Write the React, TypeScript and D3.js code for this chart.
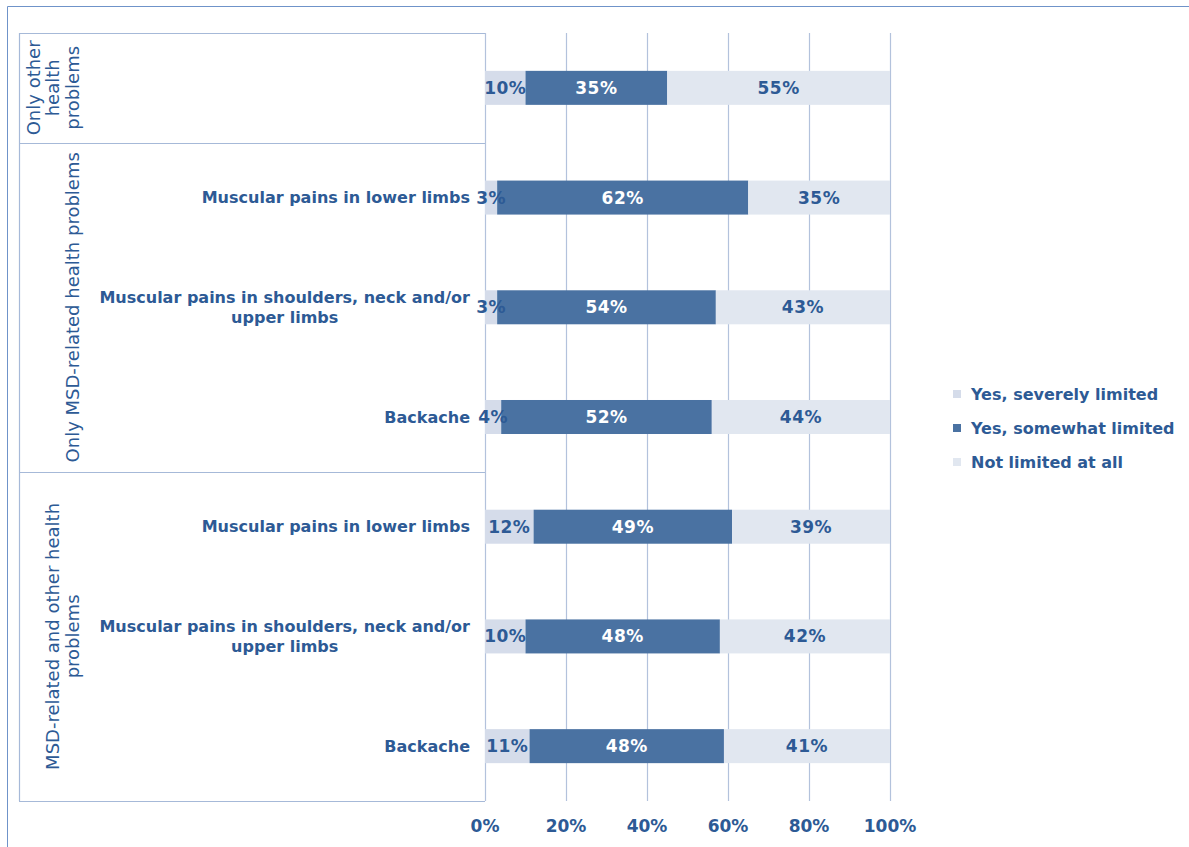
import React, { useEffect, useRef } from "react";
import * as d3 from "d3";

const groups = [
  { name: ["Only other", "health", "problems"], size: 1 },
  { name: ["Only MSD-related health problems"], size: 3 },
  { name: ["MSD-related and other health", "problems"], size: 3 },
];
const categories = [
  [""],
  ["Muscular pains in lower limbs"],
  ["Muscular pains in shoulders, neck and/or", "upper limbs"],
  ["Backache"],
  ["Muscular pains in lower limbs"],
  ["Muscular pains in shoulders, neck and/or", "upper limbs"],
  ["Backache"],
];
const severely = [10, 3, 3, 4, 12, 10, 11];
const somewhat = [35, 62, 54, 52, 49, 48, 48];
const notLimited = [55, 35, 43, 44, 39, 42, 41];
const seriesNames = ["Yes, severely limited", "Yes, somewhat limited", "Not limited at all"];
const ticks = [0, 20, 40, 60, 80, 100];

const colors = ["#d5dcea", "#4a72a2", "#e1e7f0"];
const textColor = "#2d5a95";
const FONT = "'DejaVu Sans', Verdana, sans-serif";

export default function App() {
  const ref = useRef<SVGSVGElement>(null);
  useEffect(() => {
    const svg = d3.select(ref.current);
    svg.selectAll("*").remove();
    const x0 = 485, x1 = 890, y0 = 33, y1 = 801, tableLeft = 19;
    const x = d3.scaleLinear().domain([0, 100]).range([x0, x1]);
    const y = d3.scaleBand().domain(d3.range(categories.length).map(String)).range([y0, y1]).paddingInner(0.69).paddingOuter(0.345);
    const step = y.step();

    // outer frame
    svg.append("line").attr("x1", 7.5).attr("x2", 1189).attr("y1", 6.5).attr("y2", 6.5).attr("stroke", "#6f93c9").attr("stroke-width", 1);
    svg.append("line").attr("x1", 7.5).attr("x2", 7.5).attr("y1", 6.5).attr("y2", 847).attr("stroke", "#6f93c9").attr("stroke-width", 1);

    // gridlines
    svg.append("g").selectAll("line").data(ticks).join("line")
      .attr("x1", d => Math.round(x(d)) + 0.5).attr("x2", d => Math.round(x(d)) + 0.5)
      .attr("y1", y0).attr("y2", y1).attr("stroke", "#b3c2dc").attr("stroke-width", 1.2);

    // table lines
    const tbl = svg.append("g").attr("stroke", "#a6b9d8").attr("stroke-width", 1.2);
    tbl.append("line").attr("x1", tableLeft + 0.5).attr("x2", tableLeft + 0.5).attr("y1", y0).attr("y2", y1);
    let acc = 0;
    const bounds = [0];
    groups.forEach(g => { acc += g.size; bounds.push(acc); });
    bounds.forEach(b => {
      const yy = Math.round(y0 + b * step) + 0.5;
      tbl.append("line").attr("x1", tableLeft).attr("x2", x0).attr("y1", yy).attr("y2", yy);
    });

    // bars
    const stackData = categories.map((_, i) => ({ i, vals: [severely[i], somewhat[i], notLimited[i]] }));
    const barG = svg.append("g");
    stackData.forEach(d => {
      let cum = 0;
      d.vals.forEach((v, s) => {
        const yy = y(String(d.i))!;
        barG.append("rect").attr("x", x(cum)).attr("width", x(cum + v) - x(cum))
          .attr("y", yy).attr("height", y.bandwidth()).attr("fill", colors[s]);
        cum += v;
      });
    });
    stackData.forEach(d => {
      let cum = 0;
      d.vals.forEach((v, s) => {
        const yy = y(String(d.i))!;
        barG.append("text").attr("x", x(cum + v / 2)).attr("y", yy + y.bandwidth() / 2)
          .attr("text-anchor", "middle").attr("dominant-baseline", "central")
          .attr("font-family", FONT).attr("font-weight", "bold").attr("font-size", 17).attr("letter-spacing", 0.5)
          .attr("fill", s === 1 ? "#ffffff" : textColor).text(v + "%");
        cum += v;
      });
    });

    // category labels
    categories.forEach((lines, i) => {
      const cy = y(String(i))! + y.bandwidth() / 2;
      const t = svg.append("text").attr("font-family", FONT).attr("font-weight", "bold").attr("font-size", 16).attr("fill", textColor);
      const n = lines.length;
      const spans = lines.map((l, k) => t.append("tspan").attr("y", cy + (k - (n - 1) / 2) * 20).attr("dominant-baseline", "central").text(l));
      if (n === 1) {
        spans[0].attr("x", 470).attr("text-anchor", "end");
      } else {
        const w = Math.max(...spans.map(s => (s.node() as SVGTSpanElement).getComputedTextLength()));
        spans.forEach(s => s.attr("x", 470 - w / 2).attr("text-anchor", "middle"));
      }
    });

    // group labels
    let start = 0;
    groups.forEach(g => {
      const cy = y0 + (start + g.size / 2) * step;
      const n = g.name.length;
      const t = svg.append("text").attr("transform", `translate(0,${cy}) rotate(-90)`)
        .attr("font-family", FONT).attr("font-size", 18).attr("fill", textColor).attr("text-anchor", "middle");
      g.name.forEach((l, k) => {
        t.append("tspan").attr("x", 0).attr("y", 72 - (n - 1 - k) * 19.5).attr("dominant-baseline", "central").text(l);
      });
      start += g.size;
    });

    // x tick labels
    svg.append("g").selectAll("text").data(ticks).join("text")
      .attr("x", d => x(d)).attr("y", 826).attr("text-anchor", "middle").attr("dominant-baseline", "central")
      .attr("font-family", FONT).attr("font-weight", "bold").attr("font-size", 17).attr("fill", textColor)
      .text(d => d + "%");

    // legend
    const lg = svg.append("g");
    seriesNames.forEach((s, k) => {
      const cy = 394 + k * 34;
      lg.append("rect").attr("x", 953).attr("y", cy - 4).attr("width", 8).attr("height", 8).attr("fill", colors[k]);
      lg.append("text").attr("x", 971).attr("y", cy).attr("dominant-baseline", "central")
        .attr("font-family", FONT).attr("font-weight", "bold").attr("font-size", 16).attr("fill", textColor).text(s);
    });
  }, []);
  return (
    <svg ref={ref} width={1189} height={847} style={{ position: "absolute", left: 0, top: 0, background: "#fff" }} />
  );
}
